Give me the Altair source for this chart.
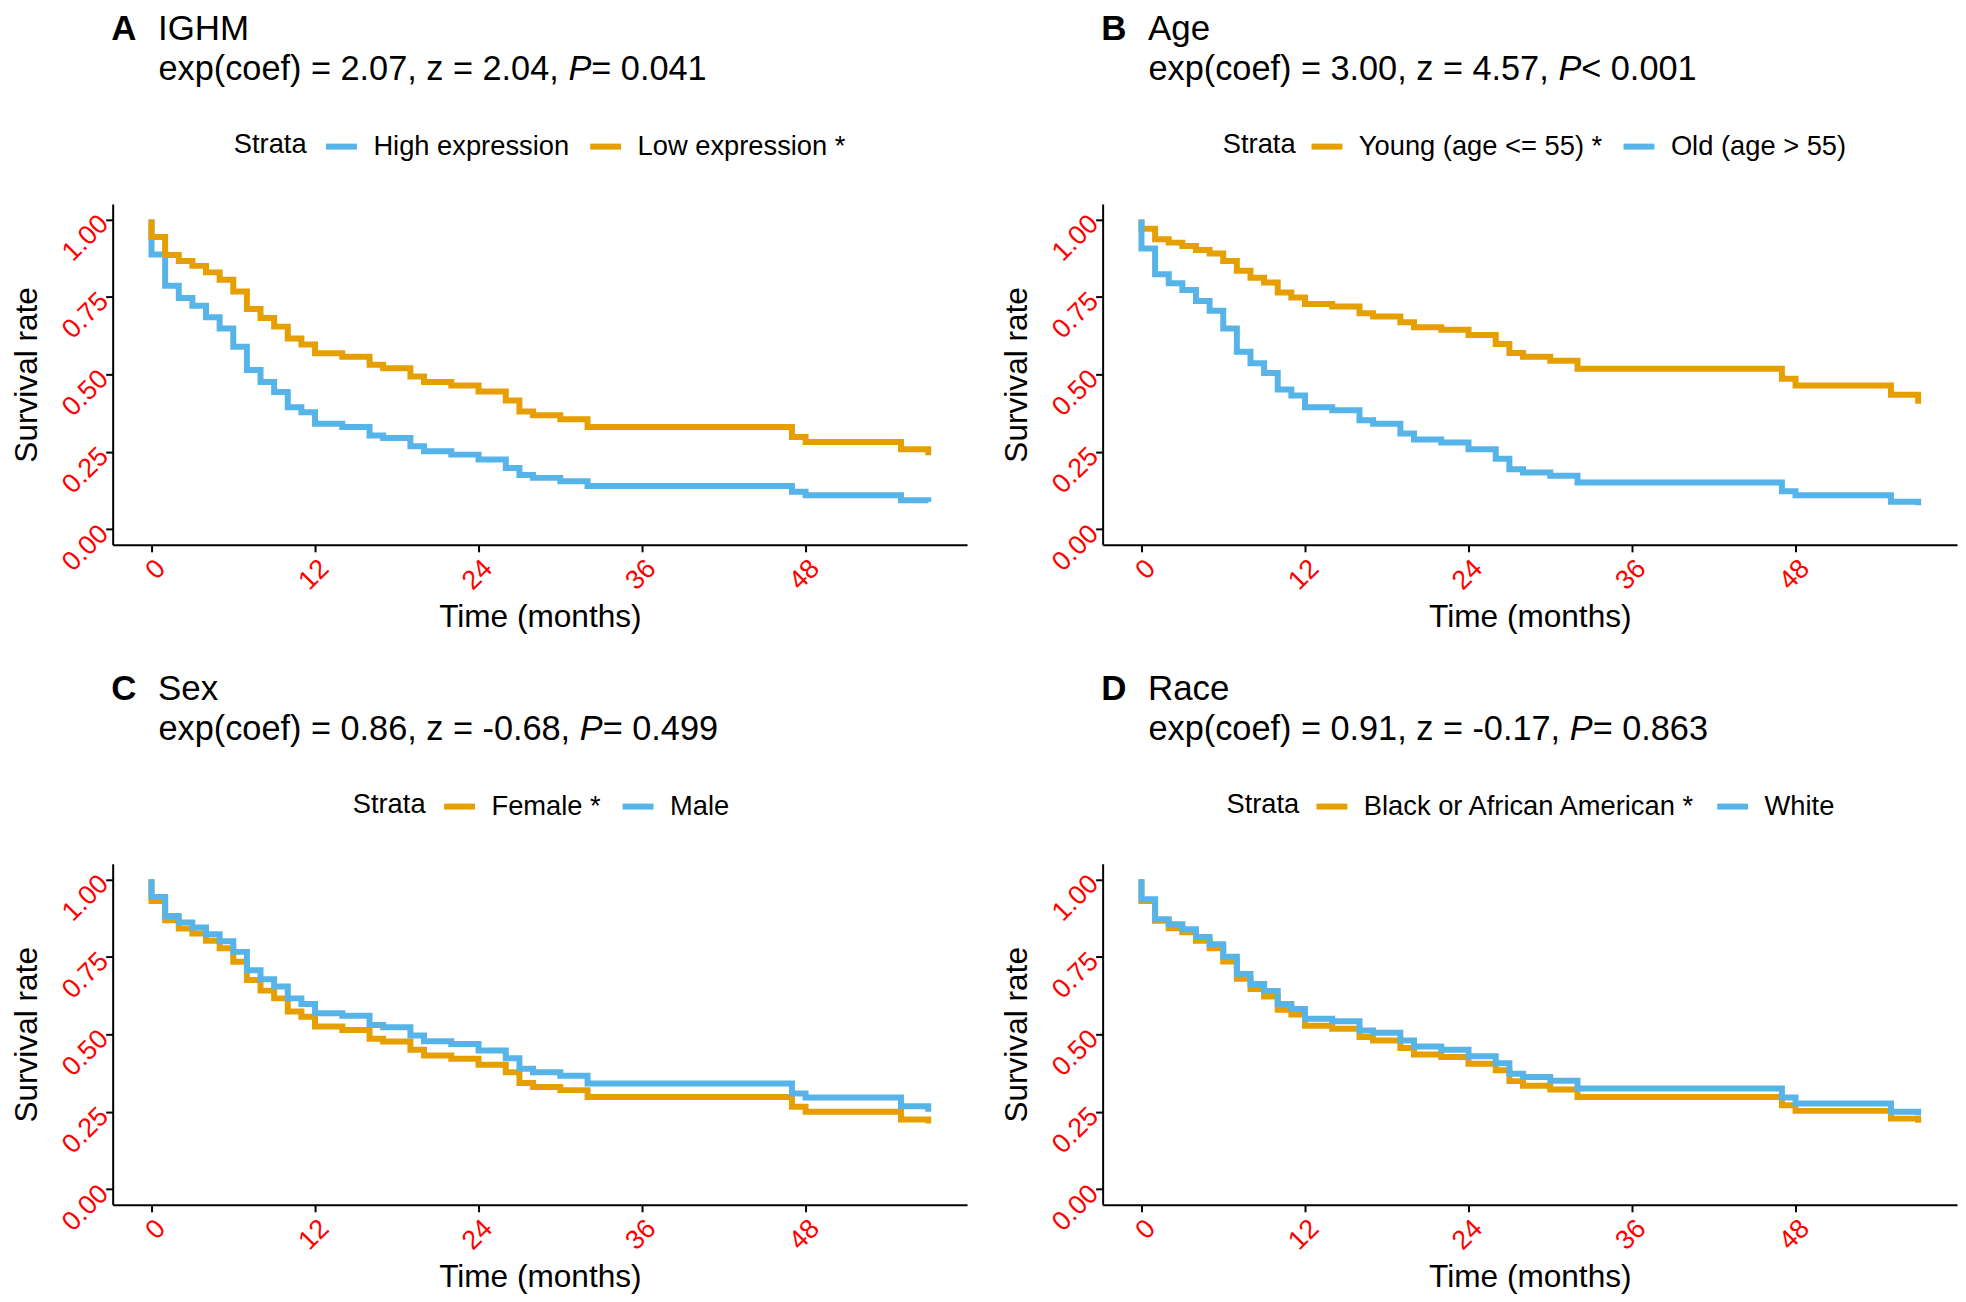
import altair as alt
import pandas as pd

FONT = "Liberation Sans"

# ---------------- data ----------------
time_months = [0, 0, 1, 2, 3, 4, 5, 6, 7, 8, 9, 10, 11, 12, 14, 16, 17, 19, 20,
               22, 24, 26, 27, 28, 30, 32, 47, 48, 55, 57]

ighm_high = [1.0, 0.887, 0.786, 0.746, 0.721, 0.684, 0.648, 0.589, 0.514, 0.475,
             0.443, 0.394, 0.378, 0.341, 0.330, 0.303, 0.295, 0.268, 0.252, 0.241,
             0.225, 0.198, 0.175, 0.166, 0.155, 0.140, 0.121, 0.110, 0.094, 0.088]
ighm_low = [1.0, 0.943, 0.885, 0.866, 0.850, 0.829, 0.805, 0.767, 0.711, 0.682,
            0.654, 0.616, 0.596, 0.568, 0.557, 0.531, 0.520, 0.493, 0.475, 0.464,
            0.445, 0.416, 0.380, 0.368, 0.355, 0.330, 0.298, 0.282, 0.258, 0.239]

age_young = [1.0, 0.970, 0.936, 0.925, 0.914, 0.901, 0.890, 0.866, 0.834, 0.812,
             0.796, 0.764, 0.748, 0.727, 0.719, 0.697, 0.687, 0.668, 0.652, 0.644,
             0.627, 0.598, 0.569, 0.557, 0.544, 0.518, 0.486, 0.464, 0.434, 0.405]
age_old = [1.0, 0.906, 0.823, 0.794, 0.772, 0.737, 0.705, 0.648, 0.573, 0.536,
           0.504, 0.451, 0.432, 0.394, 0.384, 0.352, 0.341, 0.309, 0.290, 0.280,
           0.258, 0.228, 0.194, 0.183, 0.173, 0.151, 0.123, 0.110, 0.089, 0.078]

sex_female = [1.0, 0.930, 0.868, 0.841, 0.825, 0.802, 0.778, 0.734, 0.675, 0.641,
              0.616, 0.574, 0.557, 0.525, 0.514, 0.486, 0.477, 0.450, 0.432, 0.421,
              0.402, 0.378, 0.343, 0.330, 0.320, 0.298, 0.266, 0.250, 0.225, 0.212]
sex_male = [1.0, 0.943, 0.882, 0.861, 0.845, 0.823, 0.800, 0.766, 0.707, 0.678,
            0.654, 0.616, 0.598, 0.568, 0.560, 0.530, 0.523, 0.496, 0.478, 0.469,
            0.448, 0.423, 0.389, 0.378, 0.366, 0.341, 0.309, 0.296, 0.268, 0.250]

race_black = [1.0, 0.930, 0.866, 0.842, 0.829, 0.802, 0.778, 0.735, 0.679, 0.646,
              0.622, 0.579, 0.564, 0.528, 0.518, 0.491, 0.480, 0.456, 0.435, 0.427,
              0.405, 0.384, 0.349, 0.334, 0.322, 0.298, 0.271, 0.253, 0.228, 0.215]
race_white = [1.0, 0.936, 0.871, 0.855, 0.839, 0.814, 0.791, 0.750, 0.695, 0.662,
              0.640, 0.598, 0.582, 0.550, 0.542, 0.512, 0.505, 0.480, 0.461, 0.450,
              0.429, 0.407, 0.373, 0.362, 0.350, 0.325, 0.296, 0.277, 0.250, 0.239]

panel_letters = ["A", "B", "C", "D"]
panel_titles = ["IGHM", "Age", "Sex", "Race"]
stat_before_p = ["exp(coef) = 2.07, z = 2.04, ", "exp(coef) = 3.00, z = 4.57, ",
                 "exp(coef) = 0.86, z = -0.68, ", "exp(coef) = 0.91, z = -0.17, "]
stat_after_p = ["= 0.041", "< 0.001", "= 0.499", "= 0.863"]
legend_title = "Strata"
strata_labels = [["High expression", "Low expression *"],
                 ["Young (age <= 55) *", "Old (age > 55)"],
                 ["Female *", "Male"],
                 ["Black or African American *", "White"]]
strata_values = [[ighm_high, ighm_low], [age_young, age_old],
                 [sex_female, sex_male], [race_black, race_white]]
BLUE = "#56B4E9"
ORANGE = "#E69F00"
strata_colors = [[BLUE, ORANGE], [ORANGE, BLUE], [ORANGE, BLUE], [ORANGE, BLUE]]
x_ticks = [0, 12, 24, 36, 48]
y_ticks = [0.0, 0.25, 0.5, 0.75, 1.0]

# ---------------- layout constants ----------------
W, H = 857, 342
legend_entries_x = [211.0, 206.5, 329.5, 211.5]
legend_title_x = [121.5, 120.5, 240.8, 124.2]
LEGEND_MID = -60.5

ARIAL = {'e': 556, 'x': 500, 'p': 556, '(': 333, 'c': 500, 'o': 556, 'f': 278,
         ')': 333, ' ': 278, '=': 584, '.': 278, ',': 278, 'z': 500, '-': 333,
         '<': 584, 'P': 667}
for d in "0123456789":
    ARIAL[d] = 556


def text_width(s, size):
    return sum(ARIAL.get(ch, 556) for ch in s) / 1000.0 * size


def text_layer(s, x, y, size, weight="normal", style="normal"):
    return alt.Chart(pd.DataFrame({"t": [s]})).mark_text(
        align="left", baseline="alphabetic", font=FONT, fontSize=size,
        fontWeight=weight, fontStyle=style, color="black"
    ).encode(x=alt.value(x), y=alt.value(y), text="t:N")


def panel(i):
    s1, s2 = strata_labels[i]
    c1, c2 = strata_colors[i]
    v1, v2 = strata_values[i]
    n = len(time_months)

    color = alt.Color(
        "strata:N",
        scale=alt.Scale(domain=[s1, s2], range=[c1, c2]),
        legend=alt.Legend(
            orient="none", legendX=legend_entries_x[i],
            legendY=LEGEND_MID - 15.5,
            direction="horizontal", title=None,
            labelFont=FONT, labelFontSize=27.4, labelColor="black",
            labelLimit=1000, labelOffset=13.5, columnPadding=9,
            symbolType="stroke", symbolStrokeWidth=6, symbolSize=961,
        ),
    )
    x = alt.X(
        "time:Q",
        scale=alt.Scale(domain=[-2.85, 59.85], nice=False, zero=False),
        axis=alt.Axis(
            values=x_ticks, title="Time (months)", grid=False,
            labelAngle=315, labelAlign="right", labelBaseline="top",
            labelPadding=3, labelColor="#FF0000", labelFont=FONT,
            labelFontSize=27, labelFlush=False, labelOverlap=False,
            tickColor="black", tickSize=7, tickWidth=2,
            domainColor="black", domainWidth=2,
            titleFont=FONT, titleFontSize=31.7, titleFontWeight="normal",
            titleColor="black", titleX=W / 2, titleY=82,
            titleAlign="center", titleBaseline="alphabetic",
        ),
    )
    y = alt.Y(
        "surv:Q",
        scale=alt.Scale(domain=[-0.05, 1.05], nice=False, zero=False),
        axis=alt.Axis(
            values=y_ticks, format=".2f", title="Survival rate", grid=False,
            labelAngle=315, labelAlign="right", labelBaseline="middle",
            labelPadding=2, labelColor="#FF0000", labelFont=FONT,
            labelFontSize=27, labelFlush=False, labelOverlap=False,
            tickColor="black", tickSize=7, tickWidth=2,
            domainColor="black", domainWidth=2,
            titleFont=FONT, titleFontSize=31.7, titleFontWeight="normal",
            titleColor="black", titleAngle=270, titleX=-76, titleY=H / 2,
            titleAlign="center", titleBaseline="alphabetic",
        ),
    )

    layers = []
    for s, v in ((s1, v1), (s2, v2)):
        df = pd.DataFrame({"time": time_months, "surv": v,
                           "strata": [s] * n, "idx": list(range(n))})
        layers.append(
            alt.Chart(df).mark_line(interpolate="step-after", strokeWidth=6)
            .encode(x=x, y=y, color=color, order=alt.Order("idx:Q"))
        )

    sub_x = 46
    sub_size = 34.4
    p_x = sub_x + text_width(stat_before_p[i], sub_size)
    p_w = text_width("P", sub_size)
    layers += [
        text_layer(panel_letters[i], -1.5, -164, 35, weight="bold"),
        text_layer(panel_titles[i], 45.5, -164, 35),
        text_layer(stat_before_p[i], sub_x, -124, sub_size),
        text_layer("P", p_x, -124, sub_size, style="italic"),
        text_layer(stat_after_p[i], p_x + p_w, -124, sub_size),
        text_layer(legend_title, legend_title_x[i], LEGEND_MID + 9.8, 27.4),
    ]
    return alt.layer(*layers).properties(width=W, height=H)


chart = alt.concat(panel(0), panel(1), panel(2), panel(3), columns=2,
                   spacing=alt.RowColnumber(row=320, column=136),
                   bounds="flush") \
    .resolve_scale(color="independent").resolve_legend(color="independent") \
    .properties(padding={"left": 3, "top": 1.5, "right": 0, "bottom": 0},
                background="white") \
    .configure_view(stroke="transparent")

chart.save("out.html", embed_options={"renderer": "svg", "actions": False})
